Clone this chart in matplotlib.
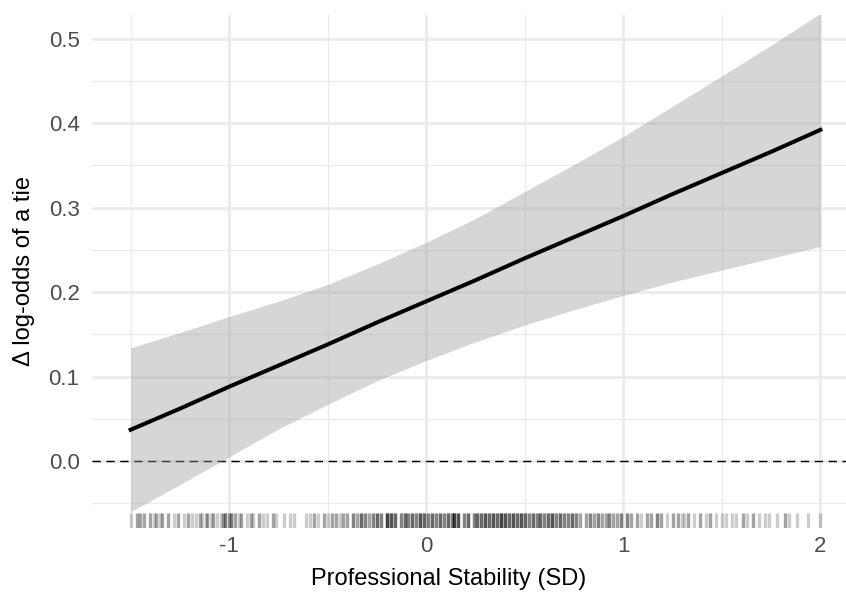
import matplotlib.pyplot as plt
import numpy as np

plt.rcParams['font.family'] = ['Liberation Sans', 'DejaVu Sans']

# fitted effect and 95% band
x_grid = [-1.5, -1.25, -1.0, -0.75, -0.5, -0.25, 0.0, 0.25,
          0.5, 0.75, 1.0, 1.25, 1.5, 1.75, 2.0]
estimate = [0.037, 0.062, 0.088, 0.113, 0.138, 0.164, 0.189, 0.214,
            0.240, 0.265, 0.290, 0.316, 0.341, 0.366, 0.392]
lower = [-0.060, -0.028, 0.005, 0.038, 0.067, 0.095, 0.119, 0.141,
         0.161, 0.179, 0.196, 0.212, 0.226, 0.240, 0.254]
upper = [0.134, 0.152, 0.171, 0.189, 0.209, 0.233, 0.259, 0.287,
         0.319, 0.351, 0.384, 0.420, 0.456, 0.492, 0.530]

# observed values (rug) and how many observations sit at each
rug_x = [-1.50, -1.47, -1.45, -1.43, -1.40, -1.38, -1.37, -1.35, -1.34, -1.31,
         -1.28, -1.26, -1.23, -1.21, -1.19, -1.17, -1.15, -1.14, -1.12, -1.11,
         -1.09, -1.08, -1.06, -1.04, -1.03, -1.02, -1.00, -0.99, -0.97, -0.95,
         -0.94, -0.91, -0.89, -0.88, -0.85, -0.83, -0.81, -0.78, -0.76, -0.72,
         -0.69, -0.67, -0.61, -0.59, -0.57, -0.55, -0.52, -0.50, -0.48, -0.46,
         -0.44, -0.42, -0.40, -0.37, -0.35, -0.33, -0.31, -0.29, -0.27, -0.25,
         -0.23, -0.20, -0.18, -0.16, -0.13, -0.11, -0.09, -0.07, -0.05, -0.03,
         -0.01, 0.01, 0.03, 0.05, 0.07, 0.09, 0.11, 0.13, 0.14, 0.16,
         0.19, 0.21, 0.24, 0.26, 0.28, 0.30, 0.32, 0.34, 0.36, 0.38,
         0.40, 0.42, 0.44, 0.46, 0.48, 0.50, 0.52, 0.54, 0.56, 0.58,
         0.60, 0.62, 0.64, 0.66, 0.68, 0.70, 0.72, 0.74, 0.76, 0.78,
         0.81, 0.83, 0.85, 0.87, 0.89, 0.91, 0.93, 0.95, 0.97, 0.99,
         1.02, 1.04, 1.07, 1.09, 1.12, 1.14, 1.17, 1.19, 1.22, 1.25,
         1.28, 1.30, 1.31, 1.33, 1.36, 1.39, 1.42, 1.44, 1.47, 1.50,
         1.52, 1.55, 1.57, 1.61, 1.63, 1.66, 1.69, 1.72, 1.74, 1.78,
         1.82, 1.84, 1.88, 1.94, 2.00]
rug_n = [1, 2, 2, 2, 2, 1, 2, 1, 2, 2,
         1, 2, 1, 2, 1, 1, 2, 1, 1, 2,
         1, 2, 1, 1, 2, 3, 2, 3, 2, 1,
         2, 1, 2, 1, 2, 1, 1, 2, 1, 1,
         1, 1, 1, 1, 2, 1, 2, 1, 2, 2,
         1, 2, 2, 3, 2, 4, 3, 2, 3, 4,
         3, 6, 5, 4, 3, 4, 3, 4, 3, 5,
         4, 3, 4, 3, 4, 3, 4, 3, 6, 5,
         3, 4, 3, 4, 4, 5, 4, 5, 4, 6,
         5, 4, 5, 4, 5, 4, 3, 4, 3, 4,
         3, 4, 5, 3, 4, 3, 3, 4, 3, 2,
         2, 3, 2, 3, 2, 2, 3, 2, 2, 3,
         3, 2, 2, 1, 2, 2, 3, 2, 1, 2,
         2, 1, 1, 2, 1, 2, 1, 2, 1, 1,
         1, 1, 1, 2, 1, 2, 1, 1, 1, 1,
         2, 1, 1, 1, 1]

fig = plt.figure(figsize=(8.46, 5.96), dpi=100)
ax = fig.add_axes([92 / 846, 68 / 596, 763 / 846, 513 / 596])

grid_col = '#ebebeb'
ax.set_xticks([-1, 0, 1, 2])
ax.set_xticks([-1.5, -0.5, 0.5, 1.5], minor=True)
ax.set_yticks([0.0, 0.1, 0.2, 0.3, 0.4, 0.5])
ax.set_yticks([-0.05, 0.05, 0.15, 0.25, 0.35, 0.45], minor=True)
ax.grid(True, which='major', color=grid_col, linewidth=2.0)
ax.grid(True, which='minor', color=grid_col, linewidth=1.0)
ax.set_axisbelow(True)

ax.axhline(0, color='black', linewidth=1.0, linestyle=(0, (6, 4)), zorder=2)
ax.fill_between(x_grid, lower, upper, color='#999999', alpha=0.4,
                linewidth=0, zorder=3)
ax.plot(x_grid, estimate, color='black', linewidth=2.9, zorder=4)

xs = np.repeat(rug_x, rug_n)
ax.vlines(xs, 0, 0.03, transform=ax.get_xaxis_transform(),
          color='black', alpha=0.2, linewidth=2.4, zorder=3)

ax.set_xlim(-1.696, 2.176)
ax.set_ylim(-0.0793, 0.528)

for s in ax.spines.values():
    s.set_visible(False)
ax.tick_params(which='both', length=0)
ax.tick_params(axis='y', labelsize=16, labelcolor='#4d4d4d', pad=9)
ax.tick_params(axis='x', labelsize=16, labelcolor='#4d4d4d', pad=6)
ax.set_xticklabels(['-1', '0', '1', '2'])

ax.set_xlabel('Professional Stability (SD)', fontsize=17)
ax.xaxis.set_label_coords(0.468, -0.078)
ax.set_ylabel('Δ log-odds of a tie', fontsize=17, labelpad=10)

fig.savefig('out.png', dpi=100)
